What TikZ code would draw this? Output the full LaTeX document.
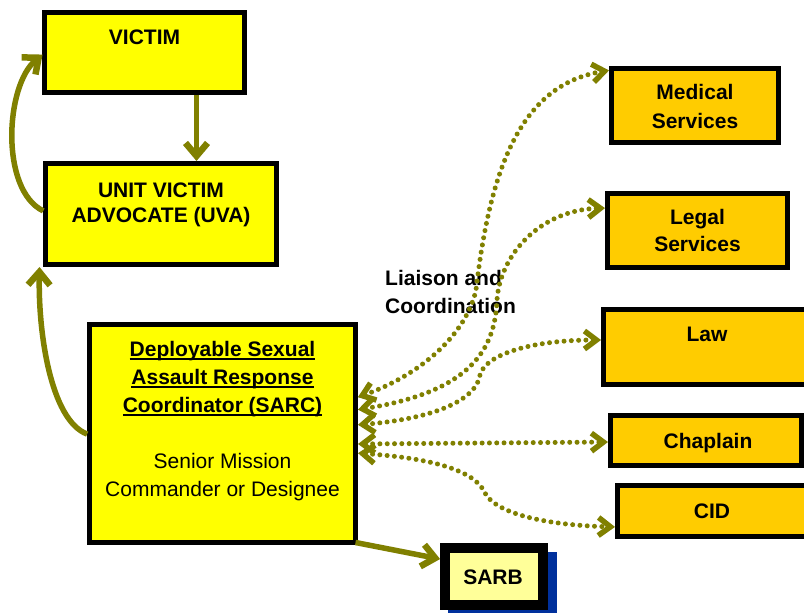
\documentclass[tikz,border=0pt]{standalone}
\usepackage{fontspec}
\setmainfont{Liberation Sans}
\usetikzlibrary{arrows.meta,calc}
\definecolor{arrowol}{HTML}{808000}
\definecolor{boxyellow}{HTML}{FFFF00}
\definecolor{boxorange}{HTML}{FFCC00}
\definecolor{sarbfill}{HTML}{FFFF99}
\definecolor{shadowblue}{HTML}{00309C}
\newcommand{\ulx}[1]{\setbox0\hbox{#1}\rlap{\rule[-3.8pt]{\wd0}{1.8pt}}\box0}
\begin{document}
\begin{tikzpicture}[x=1pt,y=-1pt,
  box/.style={draw=black, line width=5pt, inner sep=0pt, outer sep=0pt},
  lbl/.style={font=\fontsize{21}{28}\selectfont\bfseries, anchor=base, inner sep=0pt},
  plaintxt/.style={font=\fontsize{21}{28}\selectfont, anchor=base, inner sep=0pt},
  solidarr/.style={draw=arrowol, line width=5.5pt, -{Straight Barb[length=13pt,width=22pt,line width=6.5pt]}},
  dotarr/.style={draw=arrowol, line width=5pt, line cap=round, dash pattern=on 0pt off 7.3pt,
    {Straight Barb[length=12pt,width=18pt,line width=5.5pt]}-{Straight Barb[length=12pt,width=18pt,line width=5.5pt]},
    shorten <=2.5pt, shorten >=2.5pt}]
\useasboundingbox (0,0) rectangle (804,613);
\clip (0,0) rectangle (804,613);
\fill[white] (0,0) rectangle (804,613);

% boxes
\node[box, fill=boxyellow, minimum width=200pt, minimum height=80pt] (victim) at (144.5,52.5) {};
\node[box, fill=boxyellow, minimum width=231pt, minimum height=101pt] (uva) at (161,214) {};
\node[box, fill=boxyellow, minimum width=266pt, minimum height=218pt] (sarc) at (222.5,433.5) {};
\node[box, fill=boxorange, minimum width=167pt, minimum height=74pt] (medical) at (695,105.5) {};
\node[box, fill=boxorange, minimum width=180pt, minimum height=74pt] (legal) at (697.5,230.5) {};
\node[box, fill=boxorange, minimum width=209pt, minimum height=75pt] (law) at (708,347) {};
\node[box, fill=boxorange, minimum width=191pt, minimum height=50pt] (chaplain) at (706,440.5) {};
\node[box, fill=boxorange, minimum width=195pt, minimum height=51pt] (cid) at (715,511) {};
\fill[shadowblue] (448,552) rectangle (557,620);
\node[box, line width=10pt, fill=sarbfill, minimum width=98pt, minimum height=57pt] (sarb) at (494,576.5) {};

% texts
\node[lbl] (tvictim) at (144.5,44) {VICTIM};
\node[lbl] (tuva1) at (161,197) {UNIT VICTIM};
\node[lbl] (tuva2) at (161,222) {ADVOCATE (UVA)};
\node[lbl] (tsarc1) at (222.5,356) {\ulx{Deployable Sexual}};
\node[lbl] (tsarc2) at (222.5,384) {\ulx{Assault Response}};
\node[lbl] (tsarc3) at (222.5,412) {\ulx{Coordinator (SARC)}};
\node[plaintxt] (tsarc4) at (222.5,468) {Senior Mission};
\node[plaintxt] (tsarc5) at (222.5,496) {Commander or Designee};
\node[lbl] (tmed1) at (695,99.5) {Medical};
\node[lbl] (tmed2) at (695,128.5) {Services};
\node[lbl] (tleg1) at (697.5,224.5) {Legal};
\node[lbl] (tleg2) at (697.5,251.5) {Services};
\node[lbl] (tlaw) at (707,341) {Law};
\node[lbl] (tchap) at (708,448) {Chaplain};
\node[lbl] (tcid) at (712,518) {CID};
\node[lbl] (tsarb) at (493,584.5) {SARB};
\node[lbl, anchor=base west] (tliai1) at (385,285) {Liaison and};
\node[lbl, anchor=base west] (tliai2) at (385,313) {Coordination};

% solid connectors
\draw[solidarr, shorten <=2.5pt, shorten >=2.5pt] ([xshift=52pt]victim.south) -- ([xshift=35.5pt]uva.north);
\draw[solidarr, shorten <=2.5pt, shorten >=2.5pt] (uva.west |- 0,212) .. controls (0,190) and (5,85) .. (victim.west |- 0,53);
\draw[solidarr, shorten <=2.5pt] (sarc.west |- 0,435) .. controls (50,420) and (38,330) .. ($(uva.south west)+(-6,2.5)$);
\draw[solidarr, shorten >=5pt] (sarc.south east) -- (sarb.west |- 0,560);

% dotted connectors
\draw[dotarr] (sarc.east |- 0,398) .. controls (420,375) and (466,335) .. (476,290)
  .. controls (490,170) and (520,85) .. (medical.west |- 0,70);
\draw[dotarr] (sarc.east |- 0,410) .. controls (470,392) and (495,350) .. (497,300)
  .. controls (500,255) and (540,210) .. (legal.west |- 0,208);
\draw[dotarr] (sarc.east |- 0,425) .. controls (420,420) and (475,405) .. (480,375)
  .. controls (485,355) and (530,340) .. (law.west |- 0,340);
\draw[dotarr] (sarc.east |- 0,444) -- (chaplain.west |- 0,442);
\draw[dotarr] (sarc.east |- 0,453) .. controls (430,458) and (475,470) .. (485,493)
  .. controls (495,512) and (540,525) .. (cid.west |- 0,527);
\end{tikzpicture}
\end{document}
